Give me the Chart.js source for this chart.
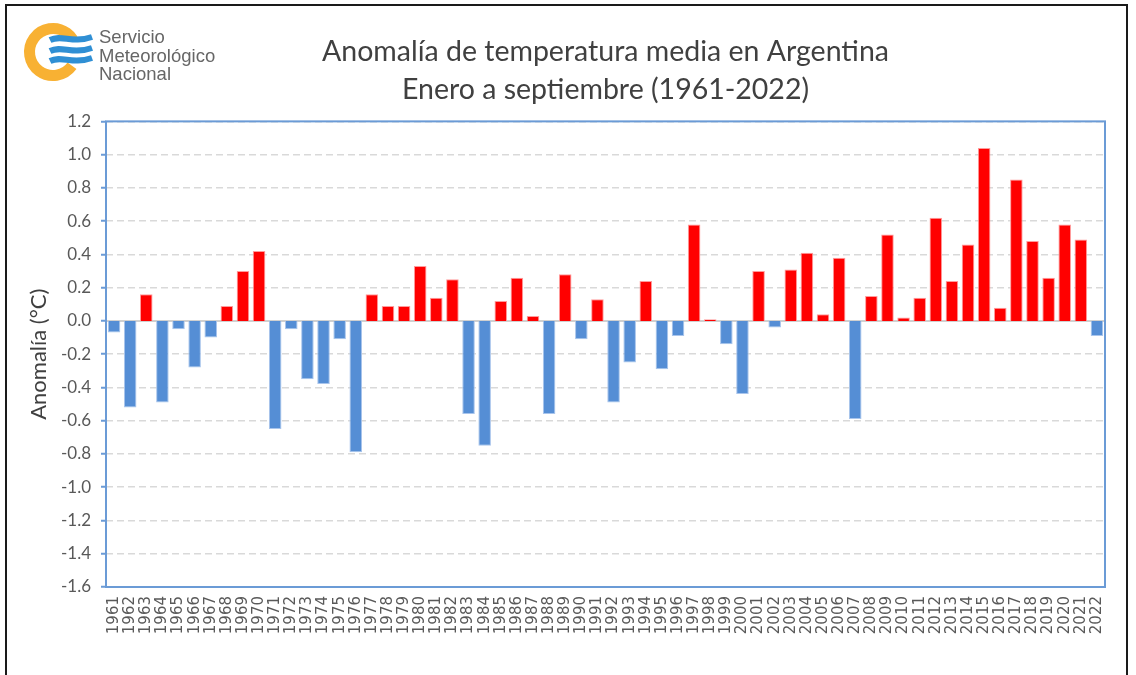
<!DOCTYPE html>
<html>
<head>
<meta charset="utf-8">
<title>Anomalía de temperatura media en Argentina</title>
<script src="https://cdn.jsdelivr.net/npm/chart.js@4.4.1/dist/chart.umd.min.js"></script>
<style>
  html, body { margin: 0; padding: 0; background: #fff; }
  #wrap { width: 1136px; height: 675px; }
</style>
</head>
<body>
<div id="wrap"><canvas id="anomalyChart" width="1136" height="675"></canvas></div>
<script>
// years shown on the x axis
const years = [
  "1961", "1962", "1963", "1964", "1965", "1966", "1967", "1968", "1969", "1970",
  "1971", "1972", "1973", "1974", "1975", "1976", "1977", "1978", "1979", "1980",
  "1981", "1982", "1983", "1984", "1985", "1986", "1987", "1988", "1989", "1990",
  "1991", "1992", "1993", "1994", "1995", "1996", "1997", "1998", "1999", "2000",
  "2001", "2002", "2003", "2004", "2005", "2006", "2007", "2008", "2009", "2010",
  "2011", "2012", "2013", "2014", "2015", "2016", "2017", "2018", "2019", "2020",
  "2021", "2022"
];

// anomaly (°C), Jan-Sep
const anomalies = [
  -0.07, -0.52, 0.16, -0.49, -0.05, -0.28, -0.10, 0.09, 0.30, 0.42,
  -0.65, -0.05, -0.35, -0.38, -0.11, -0.79, 0.16, 0.09, 0.09, 0.33,
  0.14, 0.25, -0.56, -0.75, 0.12, 0.26, 0.03, -0.56, 0.28, -0.11,
  0.13, -0.49, -0.25, 0.24, -0.29, -0.09, 0.58, 0.01, -0.14, -0.44,
  0.30, -0.04, 0.31, 0.41, 0.04, 0.38, -0.59, 0.15, 0.52, 0.02,
  0.14, 0.62, 0.24, 0.46, 1.04, 0.08, 0.85, 0.48, 0.26, 0.58,
  0.49, -0.09
];

const titleLines = ["Anomalía de temperatura media en Argentina", "Enero a septiembre (1961-2022)"];
const yAxisTitle = "Anomalía (°C)";
const logoLines = ["Servicio", "Meteorológico", "Nacional"];
const yMin = -1.6;
const yMax = 1.2;
const yStep = 0.2;

const axisBlue = "#6b9bd6";
const warmColor = "#ff0000";
const coldColor = "#558ed5";

// frame, logo, zero line and plot border
const decorations = {
  id: "decorations",
  beforeDraw(chart) {
    const ctx = chart.ctx;
    ctx.save();
    ctx.fillStyle = "#fff";
    ctx.fillRect(0, 0, chart.width, chart.height);
    ctx.strokeStyle = "#1a1a1a";
    ctx.lineWidth = 2;
    ctx.strokeRect(6, 5, 1121, 720);

    // logo ring
    ctx.strokeStyle = "#f8b133";
    ctx.lineWidth = 11;
    ctx.beginPath();
    ctx.arc(53, 52, 23.5, 0.2 * Math.PI, 1.82 * Math.PI);
    ctx.stroke();

    // logo waves
    ctx.strokeStyle = "#2f8fd4";
    ctx.lineWidth = 6;
    [39, 50, 60].forEach(y => {
      ctx.beginPath();
      ctx.moveTo(50, y + 1);
      ctx.bezierCurveTo(62, y - 5, 72, y + 5, 92, y - 2);
      ctx.stroke();
    });

    ctx.fillStyle = "#666";
    ctx.font = "18.5px 'Liberation Sans', Arial, sans-serif";
    ctx.textBaseline = "alphabetic";
    ctx.textAlign = "left";
    logoLines.forEach((t, i) => ctx.fillText(t, 99, 43 + i * 18.5));
    ctx.restore();
  },
  beforeDatasetsDraw(chart) {
    const { ctx, chartArea, scales } = chart;
    const y0 = scales.y.getPixelForValue(0);
    ctx.save();
    ctx.strokeStyle = "#d0d0d0";
    ctx.lineWidth = 2;
    ctx.beginPath();
    ctx.moveTo(chartArea.left, y0);
    ctx.lineTo(chartArea.right, y0);
    ctx.stroke();
    ctx.restore();
  },
  afterDatasetsDraw(chart) {
    const { ctx, chartArea } = chart;
    ctx.save();
    ctx.strokeStyle = axisBlue;
    ctx.lineWidth = 2;
    ctx.strokeRect(chartArea.left, chartArea.top, chartArea.right - chartArea.left, chartArea.bottom - chartArea.top);
    ctx.restore();
  }
};

Chart.defaults.font.family = "Lato, 'Open Sans', sans-serif";
Chart.defaults.color = "#595959";

const ctx = document.getElementById("anomalyChart").getContext("2d");
new Chart(ctx, {
  type: "bar",
  data: {
    labels: years,
    datasets: [{
      data: anomalies,
      backgroundColor: c => (c.raw >= 0 ? warmColor : coldColor),
      borderColor: c => (c.raw >= 0 ? "#ff9c9c" : "#a9c5ec"),
      borderWidth: 1,
      barPercentage: 0.78,
      categoryPercentage: 1
    }]
  },
  options: {
    responsive: false,
    animation: false,
    layout: { padding: { left: 20, right: 31, top: 0, bottom: 0 } },
    plugins: {
      legend: { display: false },
      tooltip: { enabled: false },
      title: {
        display: true,
        fullSize: false,
        text: titleLines,
        color: "#404040",
        font: { size: 28.5, weight: "normal", lineHeight: 1.34 },
        padding: { top: 33, bottom: 12 }
      }
    },
    scales: {
      x: {
        grid: { display: false, drawTicks: false },
        border: { display: false },
        ticks: {
          autoSkip: false,
          maxRotation: 90,
          minRotation: 90,
          padding: 9,
          font: { family: "'DejaVu Sans', sans-serif", size: 15 },
          color: "#595959"
        },
        afterFit(scale) { scale.height = 88; }
      },
      y: {
        min: yMin,
        max: yMax,
        border: { display: false, dash: [7, 4] },
        grid: {
          color: "#d9d9d9",
          lineWidth: 1.5,
          drawTicks: true,
          tickLength: 5,
          tickColor: axisBlue,
          tickWidth: 2,
          tickBorderDash: []
        },
        ticks: {
          stepSize: yStep,
          padding: 10,
          font: { size: 17 },
          color: "#595959",
          callback: v => (Math.abs(v) < 1e-9 ? 0 : v).toFixed(1)
        },
        title: {
          display: true,
          text: yAxisTitle,
          color: "#404040",
          font: { size: 22 },
          padding: { top: 6, bottom: 0 }
        },
        afterFit(scale) { scale.width = 86; }
      }
    }
  },
  plugins: [decorations]
});
</script>
</body>
</html>
